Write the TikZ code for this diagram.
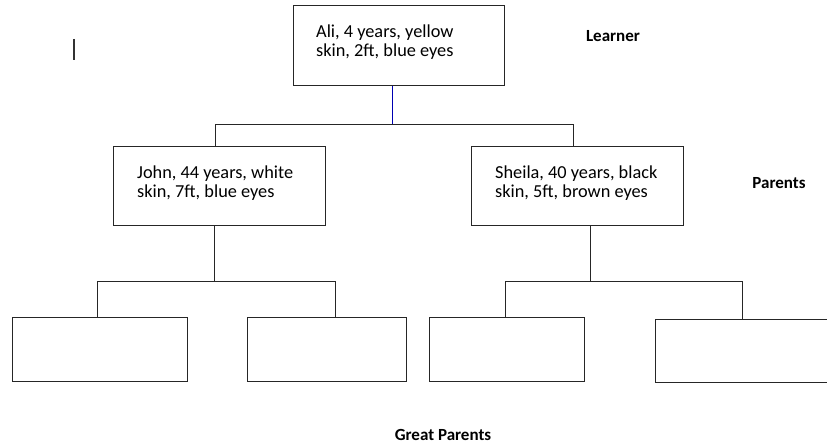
\documentclass[tikz,border=0pt]{standalone}
\usepackage{fontspec}
\setmainfont{Carlito}
\begin{document}
\begin{tikzpicture}[x=1pt,y=-1pt,
  box/.style={draw=black!85,line width=0.9pt,inner sep=0pt,anchor=north west},
  txt/.style={anchor=base west,align=left,font=\fontsize{18.3}{19.5}\selectfont,inner sep=0pt},
  lbl/.style={font=\fontsize{17}{19}\selectfont\bfseries,inner sep=0pt},
  conn/.style={draw=black!85,line width=0.9pt}]
\useasboundingbox (0,0) rectangle (827,446);
% boxes
\node[box,minimum width=211pt,minimum height=80pt] (ali) at (293,5) {};
\node[txt] (alit) at (316,57) {Ali, 4 years, yellow\\skin, 2ft, blue eyes};
\node[box,minimum width=212pt,minimum height=79pt] (john) at (113,146) {};
\node[txt] (johnt) at (137,198) {John, 44 years, white\\skin, 7ft, blue eyes};
\node[box,minimum width=212pt,minimum height=79pt] (sheila) at (471,146) {};
\node[txt] (sheilat) at (495,198) {Sheila, 40 years, black\\skin, 5ft, brown eyes};
\node[box,minimum width=175pt,minimum height=64pt] (g1) at (12,317) {};
\node[box,minimum width=159pt,minimum height=64pt] (g2) at (247,317) {};
\node[box,minimum width=155pt,minimum height=64pt] (g3) at (429,317) {};
\node[box,minimum width=180pt,minimum height=63pt] (g4) at (655,319) {};
% labels
\node[lbl] (learner) at (613,36) {Learner};
\node[lbl] (parents) at (779,183) {Parents};
\node[lbl] (great) at (443,435) {Great Parents};
% connectors
\coordinate (j1) at (392,124);
\draw[blue!70!black,line width=0.7pt] (ali.south -| j1) -- (j1);
\draw[conn] (john.north -| 215,0) -- (215,124) -- (573,124) -- (sheila.north -| 573,0);
\draw[conn] (john.south -| 214,0) -- (214,281);
\draw[conn] (g1.north -| 97,0) -- (97,281) -- (335,281) -- (g2.north -| 335,0);
\draw[conn] (sheila.south -| 590,0) -- (590,281);
\draw[conn] (g3.north -| 505,0) -- (505,281) -- (742,281) -- (g4.north -| 742,0);
% text cursor
\coordinate (c1) at (74,39);
\coordinate (c2) at (74,60);
\draw[black!80,line width=1.2pt] (c1) -- (c2);
\end{tikzpicture}
\end{document}
